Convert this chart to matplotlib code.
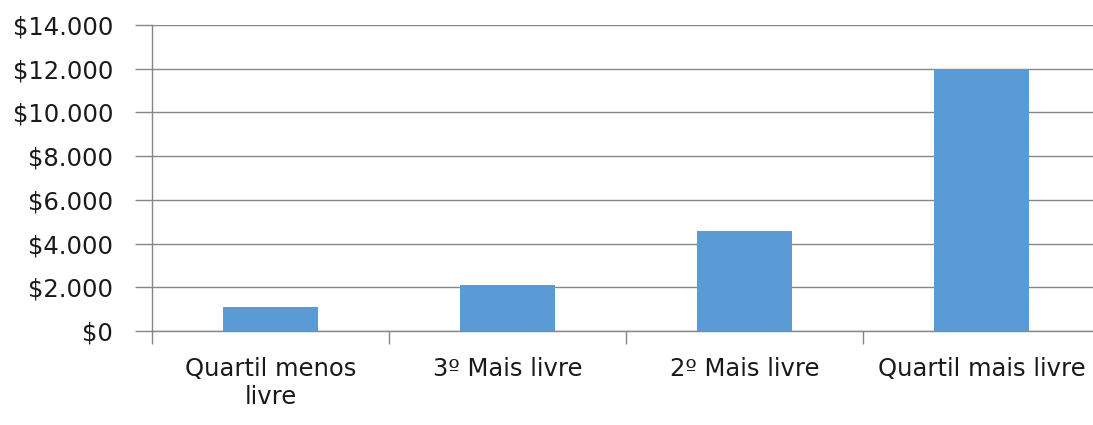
import matplotlib
matplotlib.use("Agg")
import matplotlib.pyplot as plt
from matplotlib.ticker import FuncFormatter, FixedLocator

categories = ["Quartil menos\nlivre", "3º Mais livre", "2º Mais livre", "Quartil mais livre"]
values = [1120, 2120, 4580, 12000]
yticks = [0, 2000, 4000, 6000, 8000, 10000, 12000, 14000]

W, H = 1093, 425
fig = plt.figure(figsize=(W / 100, H / 100), dpi=100)
left, right, top, bottom = 152, 1100, 25, 331
ax = fig.add_axes([left / W, 1 - bottom / H, (right - left) / W, (bottom - top) / H])

FAM = ['DejaVu Sans']
x = list(range(len(categories)))
ax.bar(x, values, width=0.4, color='#5B9BD5', zorder=3)
ax.set_xlim(-0.5, len(categories) - 0.5)
ax.set_ylim(0, 14000)
ax.set_yticks(yticks)
ax.yaxis.set_major_formatter(FuncFormatter(lambda v, p: "$" + f"{int(v):,}".replace(",", ".")))
ax.grid(axis='y', color='#868686', linewidth=1.0, zorder=0)
ax.tick_params(axis='y', length=12, width=1.0, color='#868686', pad=16, labelsize=17.5, labelcolor='#1a1a1a')

ax.set_xticks(x)
ax.set_xticklabels(categories, fontsize=17.5, color='#1a1a1a', linespacing=1.2)
ax.tick_params(axis='x', which='major', length=0, pad=19)
ax.xaxis.set_minor_locator(FixedLocator([i - 0.5 for i in range(len(categories) + 1)]))
ax.tick_params(axis='x', which='minor', length=9, width=1.0, color='#868686')

for s in ['top', 'right']:
    ax.spines[s].set_visible(False)
for s in ['left', 'bottom']:
    ax.spines[s].set_color('#868686')
    ax.spines[s].set_linewidth(1.0)

for lbl in ax.get_xticklabels() + ax.get_yticklabels():
    lbl.set_family(FAM)

fig.savefig("out.png", dpi=100)
